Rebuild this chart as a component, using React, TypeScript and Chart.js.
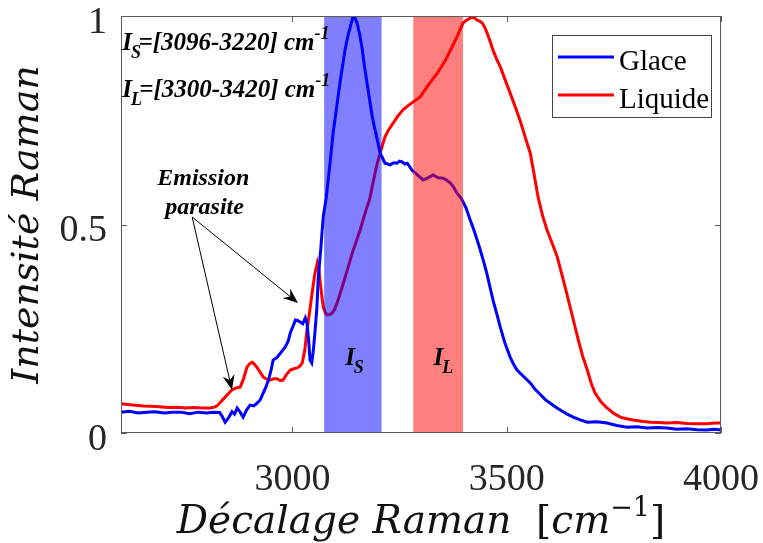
import { useEffect, useRef } from "react";
import { Chart, registerables } from "chart.js";
Chart.register(...registerables);

const glaceX = [2600, 2620, 2640, 2660, 2680, 2700, 2720, 2740, 2760, 2780, 2800, 2815, 2830, 2836, 2843, 2850, 2859, 2865, 2871, 2878, 2885, 2893, 2901, 2910, 2918, 2925, 2932, 2938, 2944, 2950, 2955, 2963, 2971, 2977, 2983, 2990, 2995, 3001, 3007, 3012, 3018, 3024, 3030, 3034, 3038, 3041, 3045, 3049, 3053, 3057, 3060, 3066, 3072, 3079, 3087, 3095, 3103, 3111, 3117, 3123, 3129, 3135, 3142, 3146, 3151, 3157, 3163, 3168, 3174, 3180, 3186, 3192, 3198, 3205, 3210, 3216, 3222, 3228, 3236, 3244, 3250, 3256, 3262, 3268, 3274, 3279, 3287, 3296, 3305, 3316, 3328, 3340, 3352, 3360, 3368, 3376, 3384, 3390, 3396, 3405, 3415, 3423, 3431, 3438, 3445, 3453, 3461, 3469, 3477, 3485, 3496, 3508, 3516, 3524, 3540, 3555, 3566, 3578, 3590, 3601, 3613, 3625, 3640, 3655, 3670, 3688, 3710, 3734, 3757, 3781, 3804, 3827, 3850, 3874, 3897, 3921, 3944, 3967, 3985, 4000];
const glaceY = [0.05, 0.052, 0.048, 0.05, 0.051, 0.048, 0.05, 0.05, 0.046, 0.05, 0.048, 0.05, 0.049, 0.04, 0.026, 0.035, 0.051, 0.045, 0.06, 0.05, 0.038, 0.055, 0.067, 0.065, 0.072, 0.08, 0.096, 0.11, 0.127, 0.15, 0.175, 0.18, 0.19, 0.198, 0.206, 0.22, 0.24, 0.255, 0.271, 0.27, 0.266, 0.262, 0.276, 0.264, 0.22, 0.175, 0.168, 0.2, 0.247, 0.3, 0.367, 0.44, 0.52, 0.565, 0.64, 0.72, 0.78, 0.84, 0.88, 0.92, 0.95, 0.974, 1.0, 0.995, 0.983, 0.955, 0.92, 0.88, 0.84, 0.8, 0.76, 0.73, 0.703, 0.67, 0.66, 0.647, 0.645, 0.643, 0.648, 0.647, 0.652, 0.65, 0.645, 0.647, 0.638, 0.63, 0.623, 0.615, 0.607, 0.612, 0.619, 0.612, 0.611, 0.606, 0.6, 0.59, 0.575, 0.568, 0.559, 0.54, 0.51, 0.488, 0.463, 0.44, 0.415, 0.385, 0.35, 0.315, 0.285, 0.254, 0.215, 0.182, 0.165, 0.151, 0.135, 0.12, 0.105, 0.093, 0.08, 0.072, 0.063, 0.055, 0.046, 0.038, 0.032, 0.026, 0.027, 0.024, 0.018, 0.014, 0.015, 0.012, 0.013, 0.012, 0.009, 0.01, 0.008, 0.007, 0.009, 0.007];

const liquideX = [2600, 2620, 2640, 2652, 2670, 2690, 2710, 2731, 2750, 2770, 2790, 2808, 2818, 2824, 2833, 2843, 2851, 2859, 2868, 2878, 2886, 2894, 2900, 2906, 2912, 2918, 2925, 2932, 2940, 2948, 2956, 2964, 2971, 2978, 2986, 2995, 3003, 3011, 3017, 3023, 3029, 3034, 3040, 3046, 3052, 3058, 3062, 3065, 3069, 3072, 3077, 3081, 3087, 3093, 3099, 3104, 3110, 3116, 3122, 3128, 3135, 3142, 3150, 3158, 3166, 3174, 3180, 3186, 3192, 3198, 3207, 3216, 3225, 3235, 3246, 3258, 3270, 3282, 3290, 3298, 3306, 3314, 3326, 3338, 3350, 3361, 3372, 3384, 3391, 3398, 3406, 3415, 3423, 3431, 3437, 3443, 3449, 3454, 3461, 3468, 3476, 3485, 3496, 3508, 3520, 3531, 3543, 3555, 3564, 3573, 3584, 3594, 3606, 3618, 3625, 3632, 3640, 3648, 3657, 3667, 3677, 3688, 3697, 3706, 3720, 3734, 3750, 3765, 3780, 3795, 3815, 3835, 3855, 3874, 3897, 3921, 3944, 3967, 3985, 4000];
const liquideY = [0.07, 0.068, 0.066, 0.065, 0.064, 0.063, 0.061, 0.062, 0.06, 0.061, 0.06, 0.06, 0.062, 0.065, 0.075, 0.086, 0.095, 0.103, 0.108, 0.11, 0.13, 0.158, 0.166, 0.17, 0.164, 0.156, 0.145, 0.134, 0.129, 0.127, 0.13, 0.13, 0.126, 0.127, 0.14, 0.151, 0.154, 0.156, 0.16, 0.168, 0.2, 0.247, 0.29, 0.336, 0.38, 0.408, 0.39, 0.36, 0.325, 0.302, 0.288, 0.283, 0.284, 0.288, 0.298, 0.312, 0.33, 0.35, 0.37, 0.39, 0.415, 0.439, 0.463, 0.487, 0.515, 0.542, 0.56, 0.59, 0.62, 0.647, 0.68, 0.71, 0.728, 0.743, 0.76, 0.775, 0.785, 0.794, 0.8, 0.806, 0.818, 0.83, 0.847, 0.863, 0.882, 0.902, 0.925, 0.95, 0.967, 0.983, 0.99, 0.995, 0.997, 0.99, 0.988, 0.983, 0.972, 0.96, 0.94, 0.918, 0.898, 0.878, 0.848, 0.815, 0.782, 0.75, 0.71, 0.671, 0.62, 0.566, 0.52, 0.487, 0.455, 0.422, 0.395, 0.367, 0.335, 0.302, 0.265, 0.223, 0.185, 0.151, 0.12, 0.096, 0.075, 0.06, 0.047, 0.038, 0.034, 0.031, 0.028, 0.026, 0.025, 0.024, 0.025, 0.023, 0.022, 0.022, 0.024, 0.024];

const seriesNames = ["Glace", "Liquide"];
const seriesColors = ["#0000ff", "#ff0000"];
const xTicks = [3000, 3500, 4000];
const yTicks = [0, 0.5, 1];
const bandS = [3074, 3208];
const bandL = [3282, 3398];
const bandColors = ["rgba(0,0,255,0.5)", "rgba(255,0,0,0.5)"];
const rangeTextS = "=[3096-3220] cm";
const rangeTextL = "=[3300-3420] cm";

const SERIF = "'Liberation Serif', serif";
const TITLE = "'DejaVu Serif', serif";

function drawArrow(ctx: CanvasRenderingContext2D, x0: number, y0: number, x1: number, y1: number) {
  const ang = Math.atan2(y1 - y0, x1 - x0);
  const L = 15, W = 6, back = 10;
  ctx.save();
  ctx.strokeStyle = "#000";
  ctx.lineWidth = 1;
  ctx.beginPath();
  ctx.moveTo(x0, y0);
  ctx.lineTo(x1 - Math.cos(ang) * back, y1 - Math.sin(ang) * back);
  ctx.stroke();
  ctx.translate(x1, y1);
  ctx.rotate(ang);
  ctx.fillStyle = "#000";
  ctx.beginPath();
  ctx.moveTo(0, 0);
  ctx.lineTo(-L, -W);
  ctx.lineTo(-back, 0);
  ctx.lineTo(-L, W);
  ctx.closePath();
  ctx.fill();
  ctx.restore();
}

function drawSubLabel(ctx: CanvasRenderingContext2D, x: number, y: number, main: string, sub: string, rest: string, sup: string, size: number) {
  ctx.font = `italic bold ${size}px ${SERIF}`;
  ctx.fillText(main, x, y);
  let cx = x + ctx.measureText(main).width - 1;
  ctx.font = `italic bold ${Math.round(size * 0.72)}px ${SERIF}`;
  ctx.fillText(sub, cx, y + size * 0.32);
  cx += ctx.measureText(sub).width * 0.75;
  if (rest) {
    ctx.font = `italic bold ${size}px ${SERIF}`;
    ctx.fillText(rest, cx, y);
    cx += ctx.measureText(rest).width;
  }
  if (sup) {
    ctx.font = `italic bold ${Math.round(size * 0.7)}px ${SERIF}`;
    ctx.fillText(sup, cx, y - size * 0.45);
  }
}

export default function App() {
  const ref = useRef<HTMLCanvasElement>(null);
  useEffect(() => {
    const canvas = ref.current;
    if (!canvas) return;

    const overlay = {
      id: "overlay",
      afterDatasetsDraw(chart: any) {
        const { ctx, chartArea: a, scales } = chart;
        const xs = scales.x;
        ctx.save();
        [bandS, bandL].forEach((b, i) => {
          const x0 = xs.getPixelForValue(b[0]);
          const x1 = xs.getPixelForValue(b[1]);
          ctx.fillStyle = bandColors[i];
          ctx.fillRect(x0, a.top, x1 - x0, a.bottom - a.top);
        });
        ctx.restore();
      },
      afterDraw(chart: any) {
        const { ctx, chartArea: a, scales } = chart;
        const xs = scales.x, ys = scales.y;
        const px = (v: number) => xs.getPixelForValue(v);
        const py = (v: number) => ys.getPixelForValue(v);
        ctx.save();
        // box
        ctx.strokeStyle = "#5a5a5a";
        ctx.lineWidth = 1;
        ctx.strokeRect(Math.round(a.left) + 0.5, Math.round(a.top) + 0.5, Math.round(a.right - a.left) - 1, Math.round(a.bottom - a.top) - 1);
        const tl = 6;
        ctx.beginPath();
        xTicks.forEach((v) => {
          const x = Math.round(px(v)) + 0.5;
          ctx.moveTo(x, a.bottom); ctx.lineTo(x, a.bottom - tl);
          ctx.moveTo(x, a.top); ctx.lineTo(x, a.top + tl);
        });
        yTicks.forEach((v) => {
          const y = Math.round(py(v)) + 0.5;
          ctx.moveTo(a.left, y); ctx.lineTo(a.left + tl, y);
          ctx.moveTo(a.right, y); ctx.lineTo(a.right - tl, y);
        });
        ctx.stroke();

        // band labels
        ctx.fillStyle = "#000";
        ctx.textBaseline = "alphabetic";
        ctx.textAlign = "left";
        drawSubLabel(ctx, px(3123), py(0.163), "I", "S", "", "", 25);
        drawSubLabel(ctx, px(3329), py(0.163), "I", "L", "", "", 25);

        // range text
        drawSubLabel(ctx, px(2603), py(0.918), "I", "S", rangeTextS, "-1", 25);
        drawSubLabel(ctx, px(2603), py(0.806), "I", "L", rangeTextL, "-1", 25);

        // Emission parasite
        ctx.font = `italic bold 24px ${SERIF}`;
        ctx.textAlign = "center";
        ctx.fillText("Emission", px(2792), py(0.595));
        ctx.fillText("parasite", px(2795), py(0.526));
        drawArrow(ctx, px(2766), py(0.518), px(3013), py(0.312));
        drawArrow(ctx, px(2766), py(0.518), px(2859), py(0.103));

        // legend
        const lx = a.right - 169, ly = a.top + 19, lw = 159, lh = 82;
        ctx.fillStyle = "#fff";
        ctx.fillRect(lx, ly, lw, lh);
        ctx.strokeStyle = "#444";
        ctx.lineWidth = 1;
        ctx.strokeRect(Math.round(lx) + 0.5, Math.round(ly) + 0.5, lw, lh);
        ctx.font = `29px ${SERIF}`;
        ctx.textAlign = "left";
        seriesNames.forEach((n, i) => {
          const yy = ly + 22 + i * 38;
          ctx.strokeStyle = seriesColors[i];
          ctx.lineWidth = 3;
          ctx.beginPath();
          ctx.moveTo(lx + 6, yy); ctx.lineTo(lx + 62, yy);
          ctx.stroke();
          ctx.fillStyle = "#000";
          ctx.fillText(n, lx + 67, yy + 13);
        });

        // y title
        ctx.save();
        ctx.translate(28, (a.top + a.bottom) / 2);
        ctx.rotate(-Math.PI / 2);
        ctx.font = `italic 38px ${TITLE}`;
        ctx.textAlign = "center";
        ctx.textBaseline = "middle";
        ctx.fillStyle = "#111";
        ctx.fillText("Intensité Raman", 0, 0);
        ctx.restore();

        // x title
        const parts: [string, string, number][] = [
          ["Décalage Raman  ", `italic 39px ${TITLE}`, 0],
          ["[", `39px ${TITLE}`, 0],
          ["cm", `italic 39px ${TITLE}`, 0],
          ["−1", `27px ${TITLE}`, -17],
          ["]", `39px ${TITLE}`, 0],
        ];
        let total = 0;
        parts.forEach(([t, f]) => { ctx.font = f; total += ctx.measureText(t).width; });
        let cx = (a.left + a.right) / 2 - total / 2;
        const base = 533;
        ctx.textAlign = "left";
        ctx.textBaseline = "alphabetic";
        ctx.fillStyle = "#111";
        parts.forEach(([t, f, dy]) => {
          ctx.font = f;
          ctx.fillText(t, cx, base + dy);
          cx += ctx.measureText(t).width;
        });
        ctx.restore();
      },
    };

    const chart = new Chart(canvas, {
      type: "line",
      data: {
        datasets: [
          {
            label: seriesNames[0],
            data: glaceX.map((x, i) => ({ x, y: glaceY[i] })),
            borderColor: seriesColors[0],
            borderWidth: 3,
            pointRadius: 0,
            tension: 0,
          },
          {
            label: seriesNames[1],
            data: liquideX.map((x, i) => ({ x, y: liquideY[i] })),
            borderColor: seriesColors[1],
            borderWidth: 3,
            pointRadius: 0,
            tension: 0,
          },
        ],
      },
      options: {
        responsive: false,
        animation: false,
        devicePixelRatio: 1,
        layout: { padding: { left: 0, top: 16, right: 42, bottom: 0 } },
        plugins: { legend: { display: false }, tooltip: { enabled: false } },
        scales: {
          x: {
            type: "linear",
            min: 2600,
            max: 4000,
            afterBuildTicks: (s: any) => { s.ticks = xTicks.map((v) => ({ value: v })); },
            afterFit: (s: any) => { s.height = 110; s.paddingLeft = 0; s.paddingRight = 0; },
            grid: { display: false, drawTicks: false },
            border: { display: false },
            ticks: { font: { family: SERIF, size: 38 }, color: "#262626", padding: 24, maxRotation: 0, autoSkip: false, callback: (v: any) => String(v) },
          },
          y: {
            type: "linear",
            min: 0,
            max: 1,
            afterBuildTicks: (s: any) => { s.ticks = yTicks.map((v) => ({ value: v })); },
            afterFit: (s: any) => { s.width = 121; s.paddingTop = 0; s.paddingBottom = 0; },
            grid: { display: false, drawTicks: false },
            border: { display: false },
            ticks: { font: { family: SERIF, size: 38 }, color: "#262626", padding: 14, labelOffset: 7, callback: (v: any) => String(v) },
          },
        },
      },
      plugins: [overlay],
    });
    return () => chart.destroy();
  }, []);

  return (
    <div style={{ position: "fixed", left: 0, top: 0, width: 763, height: 543, background: "#fff" }}>
      <canvas ref={ref} width={763} height={543} style={{ display: "block" }} />
    </div>
  );
}
